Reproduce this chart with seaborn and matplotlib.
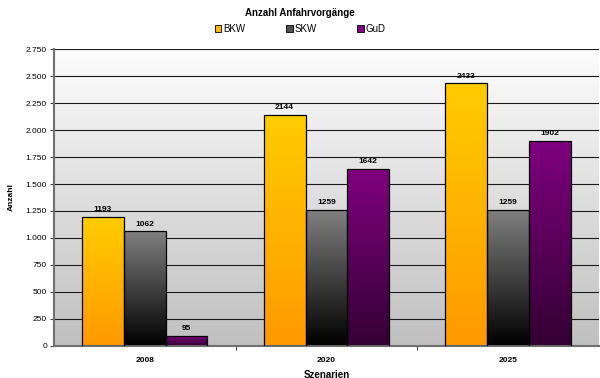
import numpy as np
import pandas as pd
import matplotlib
matplotlib.use("Agg")
import matplotlib.pyplot as plt
import seaborn as sns
from matplotlib.colors import LinearSegmentedColormap
from matplotlib.patches import Patch
from matplotlib.ticker import FuncFormatter, FixedLocator

# data
szenarien = ["2008", "2020", "2025"]
typen = ["BKW", "SKW", "GuD"]
bkw = [1193, 2144, 2433]
skw = [1062, 1259, 1259]
gud = [95, 1642, 1902]

# gradient colours (top, bottom) per series
grad_cols = {"BKW": ("#FFCC00", "#FF9900"),
             "SKW": ("#808080", "#000000"),
             "GuD": ("#800080", "#330033")}
legend_cols = {"BKW": "#FFB800", "SKW": "#505050", "GuD": "#800080"}

sns.set_style("white")
plt.rcParams["font.family"] = ["Liberation Sans", "DejaVu Sans"]

df = pd.DataFrame({"Szenario": np.repeat(szenarien, 3),
                   "Typ": typen * 3,
                   "Anzahl": [v for trio in zip(bkw, skw, gud) for v in trio]})

fig = plt.figure(figsize=(6, 3.78), dpi=100)
ax = fig.add_axes([0.09, 0.085, 0.908, 0.785])

sns.barplot(data=df, x="Szenario", y="Anzahl", hue="Typ", order=szenarien,
            hue_order=typen, palette=[legend_cols[t] for t in typen],
            width=0.69, gap=0, legend=False, ax=ax, zorder=2)

ax.set_xlim(-0.5, 2.5)
ax.set_ylim(0, 2750)

# background gradient of the plot area
bg = np.linspace(0, 1, 256).reshape(-1, 1)
bg_cmap = LinearSegmentedColormap.from_list("bg", ["#c0c0c0", "#fdfdfd"])
ax.imshow(bg, cmap=bg_cmap, extent=[0, 1, 0, 1], transform=ax.transAxes,
          aspect="auto", origin="lower", zorder=0)

# per-bar vertical gradients
for typ, cont in zip(typen, ax.containers):
    cm = LinearSegmentedColormap.from_list(typ, [grad_cols[typ][1], grad_cols[typ][0]])
    for bar in cont:
        x, w, h = bar.get_x(), bar.get_width(), bar.get_height()
        bar.set_facecolor("none")
        bar.set_edgecolor("black")
        bar.set_linewidth(0.9)
        bar.set_zorder(3)
        im = ax.imshow(bg, cmap=cm, extent=[x, x + w, 0, h], aspect="auto",
                       origin="lower", zorder=2.5)
        im.set_clip_path(bar)
        ax.text(x + w / 2, h + 35, f"{int(h)}", ha="center", va="bottom",
                fontsize=6, fontweight="bold", color="black")

ax.set_xlim(-0.5, 2.5)
ax.set_ylim(0, 2750)

ax.set_yticks(np.arange(0, 2751, 250))
ax.yaxis.set_major_formatter(FuncFormatter(lambda v, p: f"{v:,.0f}".replace(",", ".")))
ax.yaxis.grid(True, color="#1a1a1a", lw=0.8)
ax.set_axisbelow(True)

ax.tick_params(axis="y", labelsize=6, length=3, width=0.8, color="#404040", pad=2,
               left=True, labelcolor="black")
ax.tick_params(axis="x", which="major", labelsize=6, length=0, pad=8, labelcolor="black")
ax.xaxis.set_minor_locator(FixedLocator([0.5, 1.5]))
ax.tick_params(axis="x", which="minor", length=3, width=0.8, color="#404040", bottom=True)
for lab in ax.get_xticklabels():
    lab.set_fontweight("bold")

for s in ["top", "right"]:
    ax.spines[s].set_visible(False)
for s in ["left", "bottom"]:
    ax.spines[s].set_color("#707070")
    ax.spines[s].set_linewidth(1.5)

ax.set_xlabel("Szenarien", fontsize=7, fontweight="bold", labelpad=4, color="black")
ax.set_ylabel("Anzahl", fontsize=6, fontweight="bold", labelpad=8, color="black")

fig.text(0.5, 0.965, "Anzahl Anfahrvorgänge", ha="center", va="center",
         fontsize=7, fontweight="bold", color="black")
handles = [Patch(facecolor=legend_cols[t], edgecolor="black", lw=0.6, label=t) for t in typen]
fig.legend(handles=handles, loc="center", bbox_to_anchor=(0.5, 0.924), ncol=3,
           frameon=False, fontsize=7, handlelength=0.7, handleheight=0.7,
           handletextpad=0.15, columnspacing=4.2, labelcolor="black")

fig.savefig("out.png", dpi=100)
